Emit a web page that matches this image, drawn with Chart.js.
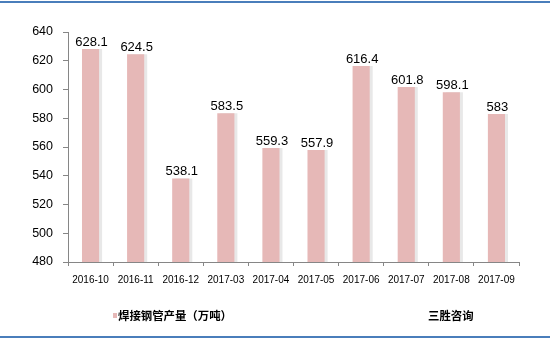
<!DOCTYPE html>
<html>
<head>
<meta charset="utf-8">
<script src="https://cdn.jsdelivr.net/npm/chart.js@4/dist/chart.umd.min.js"></script>
<style>
  html, body { margin: 0; padding: 0; background: #fff; }
  #wrap { width: 550px; height: 345px; position: relative; }
</style>
</head>
<body>
<div id="wrap"><canvas id="myChart" width="550" height="345"></canvas></div>
<script>
// data
const months = ['2016-10', '2016-11', '2016-12', '2017-03', '2017-04', '2017-05', '2017-06', '2017-07', '2017-08', '2017-09'];
const output = [628.1, 624.5, 538.1, 583.5, 559.3, 557.9, 616.4, 601.8, 598.1, 583];
const seriesName = '焊接钢管产量（万吨）';
const sourceName = '三胜咨询';
const yTicks = [480, 500, 520, 540, 560, 580, 600, 620, 640];

const barColor = '#e6b8b7';
const axisColor = '#868686';

// light grey strip on the right side of every bar
const barShadow = {
  id: 'barShadow',
  beforeDatasetsDraw(chart) {
    const ctx = chart.ctx;
    ctx.save();
    ctx.shadowColor = 'rgba(0,0,0,0.09)';
    ctx.shadowOffsetX = 3;
    ctx.shadowOffsetY = 0;
    ctx.shadowBlur = 0;
  },
  afterDatasetsDraw(chart) {
    chart.ctx.restore();
  }
};

// value above each bar
const valueLabels = {
  id: 'valueLabels',
  afterDatasetsDraw(chart) {
    const ctx = chart.ctx;
    const meta = chart.getDatasetMeta(0);
    ctx.save();
    ctx.font = '13px "Liberation Sans", Arial, sans-serif';
    ctx.fillStyle = '#000';
    ctx.textAlign = 'center';
    ctx.textBaseline = 'alphabetic';
    meta.data.forEach((bar, i) => {
      ctx.fillText(String(output[i]), bar.x + 1, bar.y - 3);
    });
    ctx.restore();
  }
};

// legend text, source and blue frame lines
const footer = {
  id: 'footer',
  afterDraw(chart) {
    const ctx = chart.ctx;
    ctx.save();
    ctx.fillStyle = barColor;
    ctx.fillRect(113, 313, 4, 5);
    ctx.fillStyle = '#000';
    ctx.font = 'bold 11.4px "Noto Sans CJK SC", sans-serif';
    ctx.textBaseline = 'middle';
    ctx.textAlign = 'left';
    ctx.fillText(seriesName, 118, 316);
    ctx.fillText(sourceName, 428, 316);

    ctx.strokeStyle = '#4a7ebb';
    ctx.lineWidth = 2;
    ctx.beginPath();
    ctx.moveTo(0, 2); ctx.lineTo(550, 2);
    ctx.moveTo(0, 337); ctx.lineTo(550, 337);
    ctx.stroke();
    ctx.restore();
  }
};

const ctx = document.getElementById('myChart');
const myChart = new Chart(ctx, {
  type: 'bar',
  data: {
    labels: months,
    datasets: [{
      label: seriesName,
      data: output,
      backgroundColor: barColor,
      borderWidth: 0,
      barPercentage: 0.76,
      categoryPercentage: 0.5
    }]
  },
  options: {
    responsive: false,
    animation: false,
    devicePixelRatio: 1,
    layout: { padding: { left: 0, right: 31, top: 32, bottom: 53 } },
    plugins: {
      legend: { display: false },
      tooltip: { enabled: false }
    },
    scales: {
      x: {
        afterFit: s => { s.height = 30; },
        grid: { drawOnChartArea: false, drawTicks: true, tickLength: 4, color: axisColor, offset: true },
        border: { display: true, color: axisColor },
        ticks: {
          color: '#000',
          font: { family: '"Liberation Sans", Arial, sans-serif', size: 10 },
          padding: 8,
          maxRotation: 0,
          autoSkip: false
        }
      },
      y: {
        min: 480,
        max: 640,
        afterFit: s => { s.width = 68; },
        afterBuildTicks: s => { s.ticks = yTicks.map(v => ({ value: v })); },
        grid: { drawOnChartArea: false, drawTicks: true, tickLength: 5, color: axisColor },
        border: { display: true, color: axisColor },
        ticks: {
          color: '#000',
          font: { family: '"Liberation Sans", Arial, sans-serif', size: 12.5 },
          padding: 10
        }
      }
    }
  },
  plugins: [barShadow, valueLabels, footer]
});
</script>
</body>
</html>
